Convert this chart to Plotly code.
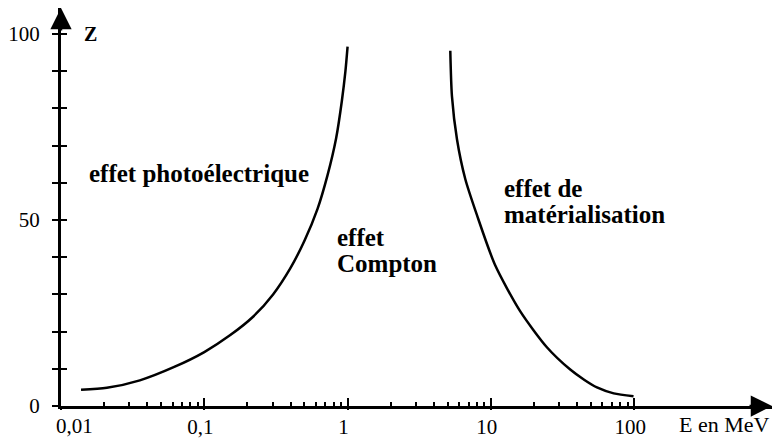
import math
import plotly.graph_objects as go

# ---- data ----
E_photo = [0.0138, 0.0209, 0.0355, 0.0617, 0.1, 0.151, 0.219, 0.302, 0.398, 0.501, 0.617, 0.724, 0.832, 0.912, 0.966, 1.0]
Z_photo = [4.4, 4.9, 6.9, 10.5, 14.5, 19.0, 24.0, 30.0, 37.0, 44.5, 53.0, 62.0, 72.0, 82.0, 90.0, 96.6]

E_pair = [5.21, 5.35, 5.80, 6.62, 8.0, 10.7, 16.0, 24.6, 35.8, 45.0, 55.0, 72.0, 99.0]
Z_pair = [95.5, 83.3, 71.7, 61.1, 51.3, 37.9, 25.5, 15.8, 9.8, 7.0, 5.0, 3.4, 2.6]

x_major = [0.01, 0.1, 1, 10, 100]
x_major_text = ["0,01", "0,1", "1", "10", "100"]
x_minor = [m * d for d in [0.01, 0.1, 1, 10] for m in range(2, 10)]
y_ticks = [0, 10, 20, 30, 40, 50, 60, 70, 80, 90, 100]
y_tick_text = ["0", "", "", "", "", "50", "", "", "", "", "100"]

x_title = "E en MeV"
y_title = "Z"
labels = [
    ("effet photoélectrique", -1.819, 62.6),
    ("effet", -0.088, 45.2),
    ("Compton", -0.088, 38.2),
    ("effet de", 1.075, 58.6),
    ("matérialisation", 1.075, 51.5),
]

SERIF = "Liberation Serif"

fig = go.Figure()
fig.add_trace(go.Scatter(x=E_photo, y=Z_photo, mode="lines",
                         line=dict(color="black", width=2.5, shape="spline", smoothing=0.7),
                         showlegend=False, hoverinfo="skip"))
fig.add_trace(go.Scatter(x=E_pair, y=Z_pair, mode="lines",
                         line=dict(color="black", width=2.5, shape="spline", smoothing=0.7),
                         showlegend=False, hoverinfo="skip"))

xr = [-2, 2.962]
yr = [0, 107]

common_off = dict(showgrid=False, zeroline=False, showline=False, showticklabels=False)

# first x tick label is drawn as an annotation (shifted right, clear of the "0" of the y axis)
axis_ticktext = [""] + x_major_text[1:]

fig.update_layout(
    width=774, height=441,
    margin=dict(l=61, r=2, t=8, b=32),
    paper_bgcolor="white", plot_bgcolor="white",
    showlegend=False,
    font=dict(family=SERIF, color="black"),
    xaxis=dict(type="log", range=xr, showline=True, linewidth=3, linecolor="black",
               ticks="inside", ticklen=8, tickwidth=2, tickcolor="black",
               tickmode="array", tickvals=x_major, ticktext=axis_ticktext,
               tickfont=dict(family=SERIF, size=21, color="black"),
               ticklabelshift=-4,
               showgrid=False, zeroline=False),
    xaxis2=dict(type="log", range=xr, overlaying="x", side="bottom",
                ticks="outside", ticklen=3, tickwidth=2, tickcolor="black",
                tickmode="array", tickvals=x_major, **common_off),
    xaxis3=dict(type="log", range=xr, overlaying="x", side="bottom",
                ticks="inside", ticklen=4, tickwidth=1.5, tickcolor="black",
                tickmode="array", tickvals=x_minor, **common_off),
    yaxis=dict(range=yr, showline=True, linewidth=3, linecolor="black",
               ticks="outside", ticklen=6, tickwidth=2, tickcolor="black",
               tickmode="array", tickvals=y_ticks, ticktext=y_tick_text,
               tickfont=dict(family=SERIF, size=21, color="black"),
               ticklabelstandoff=8,
               showgrid=False, zeroline=False),
    yaxis2=dict(range=yr, overlaying="y", side="left",
                ticks="inside", ticklen=6, tickwidth=2, tickcolor="black",
                tickmode="array", tickvals=y_ticks, **common_off),
)

fig.add_trace(go.Scatter(x=[0.01], y=[0], xaxis="x2", yaxis="y2", mode="markers",
                         marker=dict(opacity=0), showlegend=False, hoverinfo="skip"))
fig.add_trace(go.Scatter(x=[0.01], y=[0], xaxis="x3", yaxis="y", mode="markers",
                         marker=dict(opacity=0), showlegend=False, hoverinfo="skip"))

fig.add_annotation(x=math.log10(x_major[0]), y=0, xref="x", yref="paper", text=x_major_text[0],
                   showarrow=False, xanchor="center", yanchor="top", xshift=13, yshift=-6,
                   font=dict(family=SERIF, size=21, color="black"))

for txt, lx, zy in labels:
    fig.add_annotation(x=lx, y=zy, xref="x", yref="y", text="<b>" + txt + "</b>",
                       showarrow=False, xanchor="left", yanchor="middle",
                       font=dict(family=SERIF, size=25, color="black"))

fig.add_annotation(x=0.041, y=0.935, xref="paper", yref="paper", text="<b>" + y_title + "</b>",
                   showarrow=False, xanchor="center", yanchor="middle",
                   font=dict(family=SERIF, size=20, color="black"))
fig.add_annotation(x=1.0, y=-0.047, xref="paper", yref="paper", text=x_title,
                   showarrow=False, xanchor="right", yanchor="middle",
                   font=dict(family=SERIF, size=22, color="black"))

fig.add_annotation(x=0, y=1, xref="paper", yref="paper", ax=0, ay=24, axref="pixel", ayref="pixel",
                   text="", showarrow=True, arrowhead=2, arrowsize=1.7, arrowwidth=2.5, arrowcolor="black")
fig.add_annotation(x=1, y=0, xref="paper", yref="paper", ax=-24, ay=0, axref="pixel", ayref="pixel",
                   text="", showarrow=True, arrowhead=2, arrowsize=1.7, arrowwidth=2.5, arrowcolor="black")

fig.write_html("out.html", config={"displayModeBar": False},
               post_script="document.body.style.margin='0';")
